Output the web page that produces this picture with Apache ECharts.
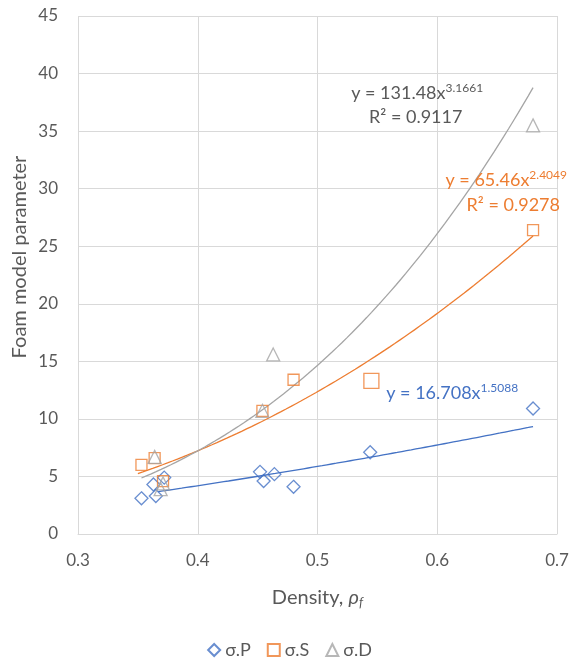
<!DOCTYPE html>
<html><head><meta charset="utf-8">
<script src="https://cdn.jsdelivr.net/npm/echarts@6/dist/echarts.min.js"></script>
<style>html,body{margin:0;padding:0;background:#fff}#c{width:579px;height:666px}</style>
</head><body><div id="c"></div>
<script>
// ---- data ----
const pX = [0.353, 0.365, 0.363, 0.372, 0.452, 0.455, 0.464, 0.480, 0.544, 0.680];
const pY = [3.1, 3.3, 4.3, 4.9, 5.4, 4.6, 5.2, 4.1, 7.1, 10.9];
const sX = [0.353, 0.364, 0.371, 0.454, 0.480, 0.545, 0.680];
const sY = [6.0, 6.6, 4.6, 10.7, 13.4, 13.3, 26.4];
const dX = [0.364, 0.371, 0.369, 0.454, 0.463, 0.680];
const dY = [6.7, 4.4, 3.9, 10.7, 15.6, 35.5];
// power-law trendlines shown on the chart: y = a * x^b
const pFit = [16.708, 1.5088]; const pRange = [0.367, 0.68];
const sFit = [65.46, 2.4049];  const sRange = [0.350, 0.68];
const dFit = [131.48, 3.1661]; const dRange = [0.353, 0.68];
const xTicks = ['0.3', '0.4', '0.5', '0.6', '0.7'];
const yTicks = [0, 5, 10, 15, 20, 25, 30, 35, 40, 45];

const FONT = 'Lato, "Open Sans", sans-serif';
const BLUE = '#4472c4', ORANGE = '#ed7d31', GRAY = '#a5a5a5', TXT = '#595959';

function pts(xs, ys) { return xs.map((x, i) => [x, ys[i]]); }
function curve(fit, range) {
  const out = [], n = 80;
  for (let i = 0; i <= n; i++) {
    const x = range[0] + (range[1] - range[0]) * i / n;
    out.push([x, fit[0] * Math.pow(x, fit[1])]);
  }
  return out;
}
function trend(name, color, fit, range, labels) {
  return {
    name: name + ' fit', type: 'line', data: curve(fit, range), showSymbol: false, symbol: 'none',
    lineStyle: { color: color, width: 1.3 }, z: 2, silent: true, smooth: false,
    markPoint: {
      symbol: 'circle', symbolSize: 0, silent: true,
      data: labels.map(l => ({ coord: l.coord, label: { show: true, position: 'inside', formatter: l.text, rich: l.rich } }))
    }
  };
}
function eqRich(color) {
  return {
    t: { fontFamily: FONT, fontSize: 18, color: color, lineHeight: 22 },
    s: { fontFamily: FONT, fontSize: 12, color: color, lineHeight: 22, verticalAlign: 'top', padding: [0, 0, 10, 0] }
  };
}
function scatter(name, xs, ys, symbol, size, color) {
  return {
    name: name, type: 'scatter', data: pts(xs, ys), symbol: symbol, symbolSize: size, z: 5,
    itemStyle: { color: 'rgba(255,255,255,0)', borderColor: color, borderWidth: 1.3 }
  };
}

const chart = echarts.init(document.getElementById('c'), null, { renderer: 'canvas' });
chart.setOption({
  animation: false,
  textStyle: { fontFamily: FONT },
  grid: { left: 78, right: 22, top: 16, bottom: 132 },
  xAxis: {
    type: 'value', min: 0.3, max: 0.7, interval: 0.1,
    name: '{n|Density, }{i|ρ}{f|f}', nameLocation: 'middle', nameGap: 52,
    nameTextStyle: { rich: {
      n: { fontFamily: FONT, fontSize: 20, color: TXT },
      i: { fontFamily: FONT, fontSize: 20, color: TXT, fontStyle: 'italic' },
      f: { fontFamily: FONT, fontSize: 13, color: TXT, fontStyle: 'italic', verticalAlign: 'bottom', padding: [10, 0, 0, 0] }
    } },
    axisLine: { show: true, lineStyle: { color: '#d9d9d9' } },
    axisTick: { show: false },
    axisLabel: { fontSize: 17, color: TXT, margin: 18, formatter: v => xTicks[Math.round((v - 0.3) * 10)] },
    splitLine: { show: true, lineStyle: { color: '#d9d9d9' } }
  },
  yAxis: {
    type: 'value', min: 0, max: 45, interval: 5,
    axisLine: { show: false }, axisTick: { show: false },
    axisLabel: { fontSize: 17, color: TXT, margin: 20, formatter: v => String(yTicks[Math.round(v / 5)]) },
    splitLine: { show: true, lineStyle: { color: '#d9d9d9' } }
  },
  legend: {
    bottom: 2, left: 'center', itemWidth: 12, itemHeight: 12, itemGap: 16,
    textStyle: { fontSize: 18, color: TXT, fontFamily: FONT },
    data: ['σ.P', 'σ.S', 'σ.D']
  },
  graphic: [{
    type: 'text', x: 20, y: 257, rotation: Math.PI / 2,
    style: { text: 'Foam model parameter', font: '20px ' + FONT, fill: TXT, textAlign: 'center', textVerticalAlign: 'middle' }
  }],
  series: [
    trend('σ.P', BLUE, pFit, pRange, [
      { coord: [0.6125, 12.25], text: '{t|y = 16.708x}{s|1.5088}', rich: eqRich(BLUE) }
    ]),
    trend('σ.S', ORANGE, sFit, sRange, [
      { coord: [0.6576, 30.7], text: '{t|y = 65.46x}{s|2.4049}', rich: eqRich(ORANGE) },
      { coord: [0.6635, 28.6], text: '{t|R² = 0.9278}', rich: eqRich(ORANGE) }
    ]),
    trend('σ.D', GRAY, dFit, dRange, [
      { coord: [0.5832, 38.3], text: '{t|y = 131.48x}{s|3.1661}', rich: eqRich(TXT) },
      { coord: [0.582, 36.2], text: '{t|R² = 0.9117}', rich: eqRich(TXT) }
    ]),
    scatter('σ.P', pX, pY, 'diamond', 13, BLUE),
    scatter('σ.S', sX, sY, 'rect', (v, p) => p.dataIndex === 5 ? 15 : 11, ORANGE),
    scatter('σ.D', dX, dY, 'triangle', 13, GRAY)
  ]
});
</script>
</body></html>
